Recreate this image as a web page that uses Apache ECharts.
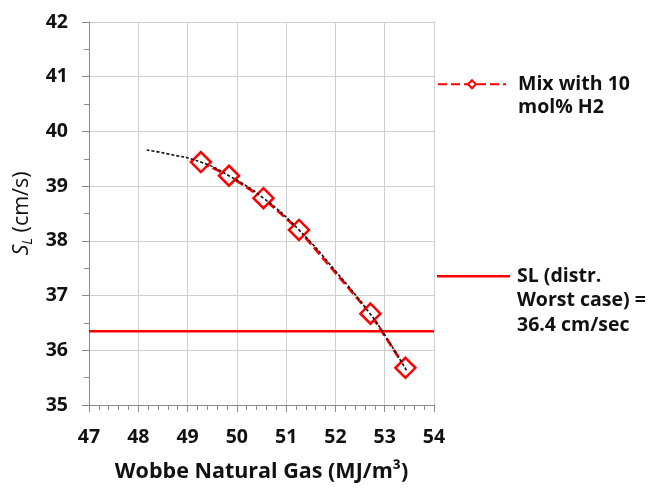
<!DOCTYPE html>
<html>
<head>
<meta charset="utf-8">
<script src="https://cdn.jsdelivr.net/npm/echarts@6/dist/echarts.min.js"></script>
<style>
html,body{margin:0;padding:0;background:#fff;}
#chart{width:649px;height:488px;}
</style>
</head>
<body>
<div id="chart"></div>
<script>
// Data
const mixName = 'Mix with 10 mol% H2';
const slName = 'SL (distr. Worst case) = 36.4 cm/sec';
const mixX = [49.27, 49.84, 50.54, 51.26, 52.71, 53.42];
const mixY = [39.44, 39.19, 38.78, 38.20, 36.67, 35.68];
const trendX = [48.17, 48.6, 49.27, 49.84, 50.54, 51.26, 52.0, 52.71, 53.0, 53.45];
const trendY = [39.66, 39.59, 39.44, 39.19, 38.78, 38.20, 37.45, 36.66, 36.28, 35.62];
const slX = [47, 54];
const slY = [36.35, 36.35];
const xTicks = [47, 48, 49, 50, 51, 52, 53, 54];
const yTicks = [35, 36, 37, 38, 39, 40, 41, 42];

const pair = (xs, ys) => xs.map((x, i) => [x, ys[i]]);
const FONT = 'Open Sans';
const RED = '#ff0000';
const INK = '#111111';

const chart = echarts.init(document.getElementById('chart'), null, {renderer: 'canvas'});
chart.setOption({
  animation: false,
  backgroundColor: '#ffffff',
  grid: {left: 89, right: 215, top: 22, bottom: 80, containLabel: false},
  legend: [
    {
      data: [mixName], left: 437, top: 49, padding: 0, orient: 'vertical',
      itemWidth: 68, itemHeight: 10,
      formatter: () => '\nMix with 10\nmol% H2',
      textStyle: {fontFamily: FONT, fontWeight: 'bold', fontSize: 19.5, color: INK, lineHeight: 23.5, padding: [0, 0, 0, 7]}
    },
    {
      data: [{name: slName, icon: 'rect'}], left: 437, top: 215, padding: 0, orient: 'vertical',
      itemWidth: 73, itemHeight: 2.5,
      formatter: () => '\n\nSL (distr.\nWorst case) =\n36.4 cm/sec',
      textStyle: {fontFamily: FONT, fontWeight: 'bold', fontSize: 19.5, color: INK, lineHeight: 24.5, padding: [0, 0, 0, 2]}
    }
  ],
  xAxis: {
    type: 'value', min: xTicks[0], max: xTicks[xTicks.length - 1], interval: 1,
    name: 'Wobbe Natural Gas (MJ/m³)', nameLocation: 'middle', nameGap: 56,
    nameTextStyle: {fontFamily: FONT, fontWeight: 'bold', fontSize: 21.5, color: INK},
    axisLine: {show: true, lineStyle: {color: '#8c8c8c', width: 1}},
    axisTick: {show: true, inside: false, length: 7, lineStyle: {color: '#8c8c8c'}},
    minorTick: {show: true, splitNumber: 5, length: 5, lineStyle: {color: '#8c8c8c'}},
    axisLabel: {fontFamily: FONT, fontWeight: 'bold', fontSize: 19.5, color: INK, margin: 22},
    splitLine: {show: true, lineStyle: {color: '#d0d0d0', width: 1}}
  },
  yAxis: {
    type: 'value', min: yTicks[0], max: yTicks[yTicks.length - 1], interval: 1,
    name: '{i|S}{sub|L}{n| (cm/s)}', nameLocation: 'middle', nameGap: 49, nameRotate: 90,
    nameTextStyle: {
      fontFamily: FONT, fontSize: 21.5, color: INK,
      rich: {
        i: {fontFamily: FONT, fontSize: 21.5, fontStyle: 'italic', color: INK},
        sub: {fontFamily: FONT, fontSize: 14, fontStyle: 'italic', color: INK, verticalAlign: 'bottom', padding: [11, 0, 0, 0]},
        n: {fontFamily: FONT, fontSize: 21.5, color: INK}
      }
    },
    axisLine: {show: true, lineStyle: {color: '#8c8c8c', width: 1}},
    axisTick: {show: true, inside: false, length: 7, lineStyle: {color: '#8c8c8c'}},
    minorTick: {show: true, splitNumber: 2, length: 5, lineStyle: {color: '#8c8c8c'}},
    axisLabel: {fontFamily: FONT, fontWeight: 'bold', fontSize: 19.5, color: INK, margin: 21},
    splitLine: {show: true, lineStyle: {color: '#d0d0d0', width: 1}}
  },
  series: [
    {
      name: mixName, type: 'line', data: pair(mixX, mixY),
      symbol: 'diamond', symbolSize: 20, z: 3,
      itemStyle: {color: '#ffffff', borderColor: RED, borderWidth: 2.5},
      lineStyle: {color: RED, width: 2.8, type: [9, 4]},
      emphasis: {disabled: true}
    },
    {
      name: slName, type: 'line', data: pair(slX, slY),
      symbol: 'none', z: 2,
      itemStyle: {color: RED},
      lineStyle: {color: RED, width: 2.5, type: 'solid'},
      emphasis: {disabled: true}
    },
    {
      name: 'trend', type: 'line', data: pair(trendX, trendY),
      symbol: 'none', smooth: true, z: 4,
      lineStyle: {color: '#111111', width: 1.6, type: [3, 2]},
      emphasis: {disabled: true}
    }
  ]
});
</script>
</body>
</html>
